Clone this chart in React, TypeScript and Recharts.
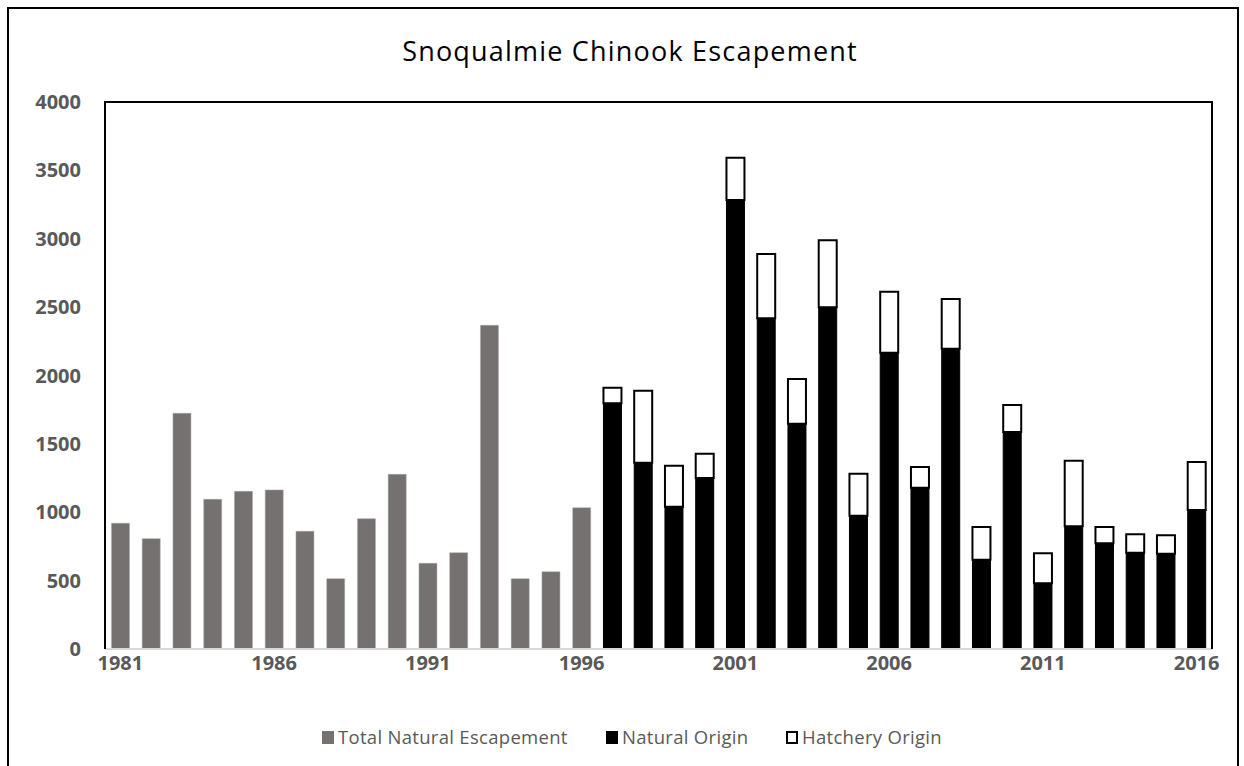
import { BarChart, Bar, XAxis, YAxis } from 'recharts'

// Escapement counts
const years = [
  '1981', '1982', '1983', '1984', '1985', '1986', '1987', '1988', '1989', '1990',
  '1991', '1992', '1993', '1994', '1995', '1996', '1997', '1998', '1999', '2000',
  '2001', '2002', '2003', '2004', '2005', '2006', '2007', '2008', '2009', '2010',
  '2011', '2012', '2013', '2014', '2015', '2016',
]

// gray bars, 1981-1996
const totalNatural: (number | null)[] = [
  920, 807, 1724, 1095, 1153, 1163, 861, 514, 953, 1277,
  627, 704, 2367, 514, 565, 1033,
]

// stacked bars, 1997-2016
const naturalOrigin: number[] = [
  1797, 1362, 1041, 1250, 3283, 2418, 1648, 2499, 975, 2166,
  1180, 2196, 653, 1587, 480, 897, 773, 704, 697, 1016,
]
const hatcheryOrigin: number[] = [
  114, 527, 299, 178, 310, 470, 326, 490, 307, 447,
  151, 363, 239, 197, 220, 480, 119, 135, 134, 351,
]

const yTicks = [0, 500, 1000, 1500, 2000, 2500, 3000, 3500, 4000]

const GRAY = '#767171'
const TEXT = '#595959'

const firstStacked = totalNatural.length

const data = years.map((year, i) => ({
  year,
  total: i < firstStacked ? totalNatural[i] : null,
  natural: i >= firstStacked ? naturalOrigin[i - firstStacked] : null,
  hatchery: i >= firstStacked ? hatcheryOrigin[i - firstStacked] : null,
}))

const tickStyle = {
  fontFamily: '"Open Sans", sans-serif',
  fontSize: 20,
  fontWeight: 700,
  fill: TEXT,
}

function LegendItem({ label, fill, stroke, left }: { label: string; fill: string; stroke?: string; left: number }) {
  return (
    <div style={{ position: 'absolute', left, top: 0, display: 'flex', alignItems: 'center', gap: 4, whiteSpace: 'nowrap' }}>
      <span
        style={{
          display: 'inline-block',
          width: 12,
          height: 13,
          boxSizing: 'border-box',
          background: fill,
          border: stroke ? `2px solid ${stroke}` : 'none',
        }}
      />
      <span>{label}</span>
    </div>
  )
}

export default function App() {
  return (
    <div
      style={{
        position: 'absolute',
        left: 0,
        top: 0,
        width: 1244,
        height: 766,
        overflow: 'hidden',
        background: '#fff',
      }}
    >
      {/* outer chart frame */}
      <div
        style={{
          position: 'absolute',
          left: 7,
          top: 7,
          width: 1232,
          height: 800,
          border: '2px solid #000',
          boxSizing: 'border-box',
        }}
      />
      <div
        style={{
          position: 'absolute',
          left: 0,
          width: 1260,
          top: 32,
          textAlign: 'center',
          fontFamily: '"Open Sans", sans-serif',
          fontSize: 27,
          letterSpacing: 1.2,
          color: '#000',
        }}
      >
        Snoqualmie Chinook Escapement
      </div>
      <BarChart
        width={1244}
        height={766}
        data={data}
        margin={{ top: 102, right: 32, bottom: 87, left: 8 }}
        barCategoryGap="21%"
        style={{ position: 'absolute', left: 0, top: 0 }}
      >
        <XAxis
          dataKey="year"
          interval={4}
          tickLine={false}
          tickMargin={1}
          axisLine={{ stroke: '#d9d9d9', strokeWidth: 2 }}
          tick={tickStyle}
          height={30}
        />
        <YAxis
          domain={[0, 4000]}
          ticks={yTicks}
          tickLine={false}
          tickMargin={18}
          axisLine={false}
          tick={tickStyle}
          width={97}
        />
        <Bar dataKey="total" stackId="a" fill={GRAY} stroke="#a6a6a6" strokeWidth={0.5} isAnimationActive={false} />
        <Bar dataKey="natural" stackId="a" fill="#000" stroke="#000" strokeWidth={1} isAnimationActive={false} />
        <Bar dataKey="hatchery" stackId="a" fill="#fff" stroke="#000" strokeWidth={2} isAnimationActive={false} />
      </BarChart>
      {/* plot area border: top, left, right */}
      <div
        style={{
          position: 'absolute',
          left: 104,
          top: 101,
          width: 1109,
          height: 548,
          borderTop: '2px solid #000',
          borderLeft: '2px solid #000',
          borderRight: '2px solid #000',
          boxSizing: 'border-box',
          pointerEvents: 'none',
        }}
      />
      <div
        style={{
          position: 'absolute',
          left: 0,
          top: 724,
          width: 1244,
          height: 26,
          fontFamily: '"Open Sans", sans-serif',
          fontSize: 18.5,
          letterSpacing: 0.3,
          color: TEXT,
          lineHeight: '26px',
        }}
      >
        <LegendItem left={322} label="Total Natural Escapement" fill={GRAY} />
        <LegendItem left={606} label="Natural Origin" fill="#000" />
        <LegendItem left={786} label="Hatchery Origin" fill="#fff" stroke="#000" />
      </div>
    </div>
  )
}
